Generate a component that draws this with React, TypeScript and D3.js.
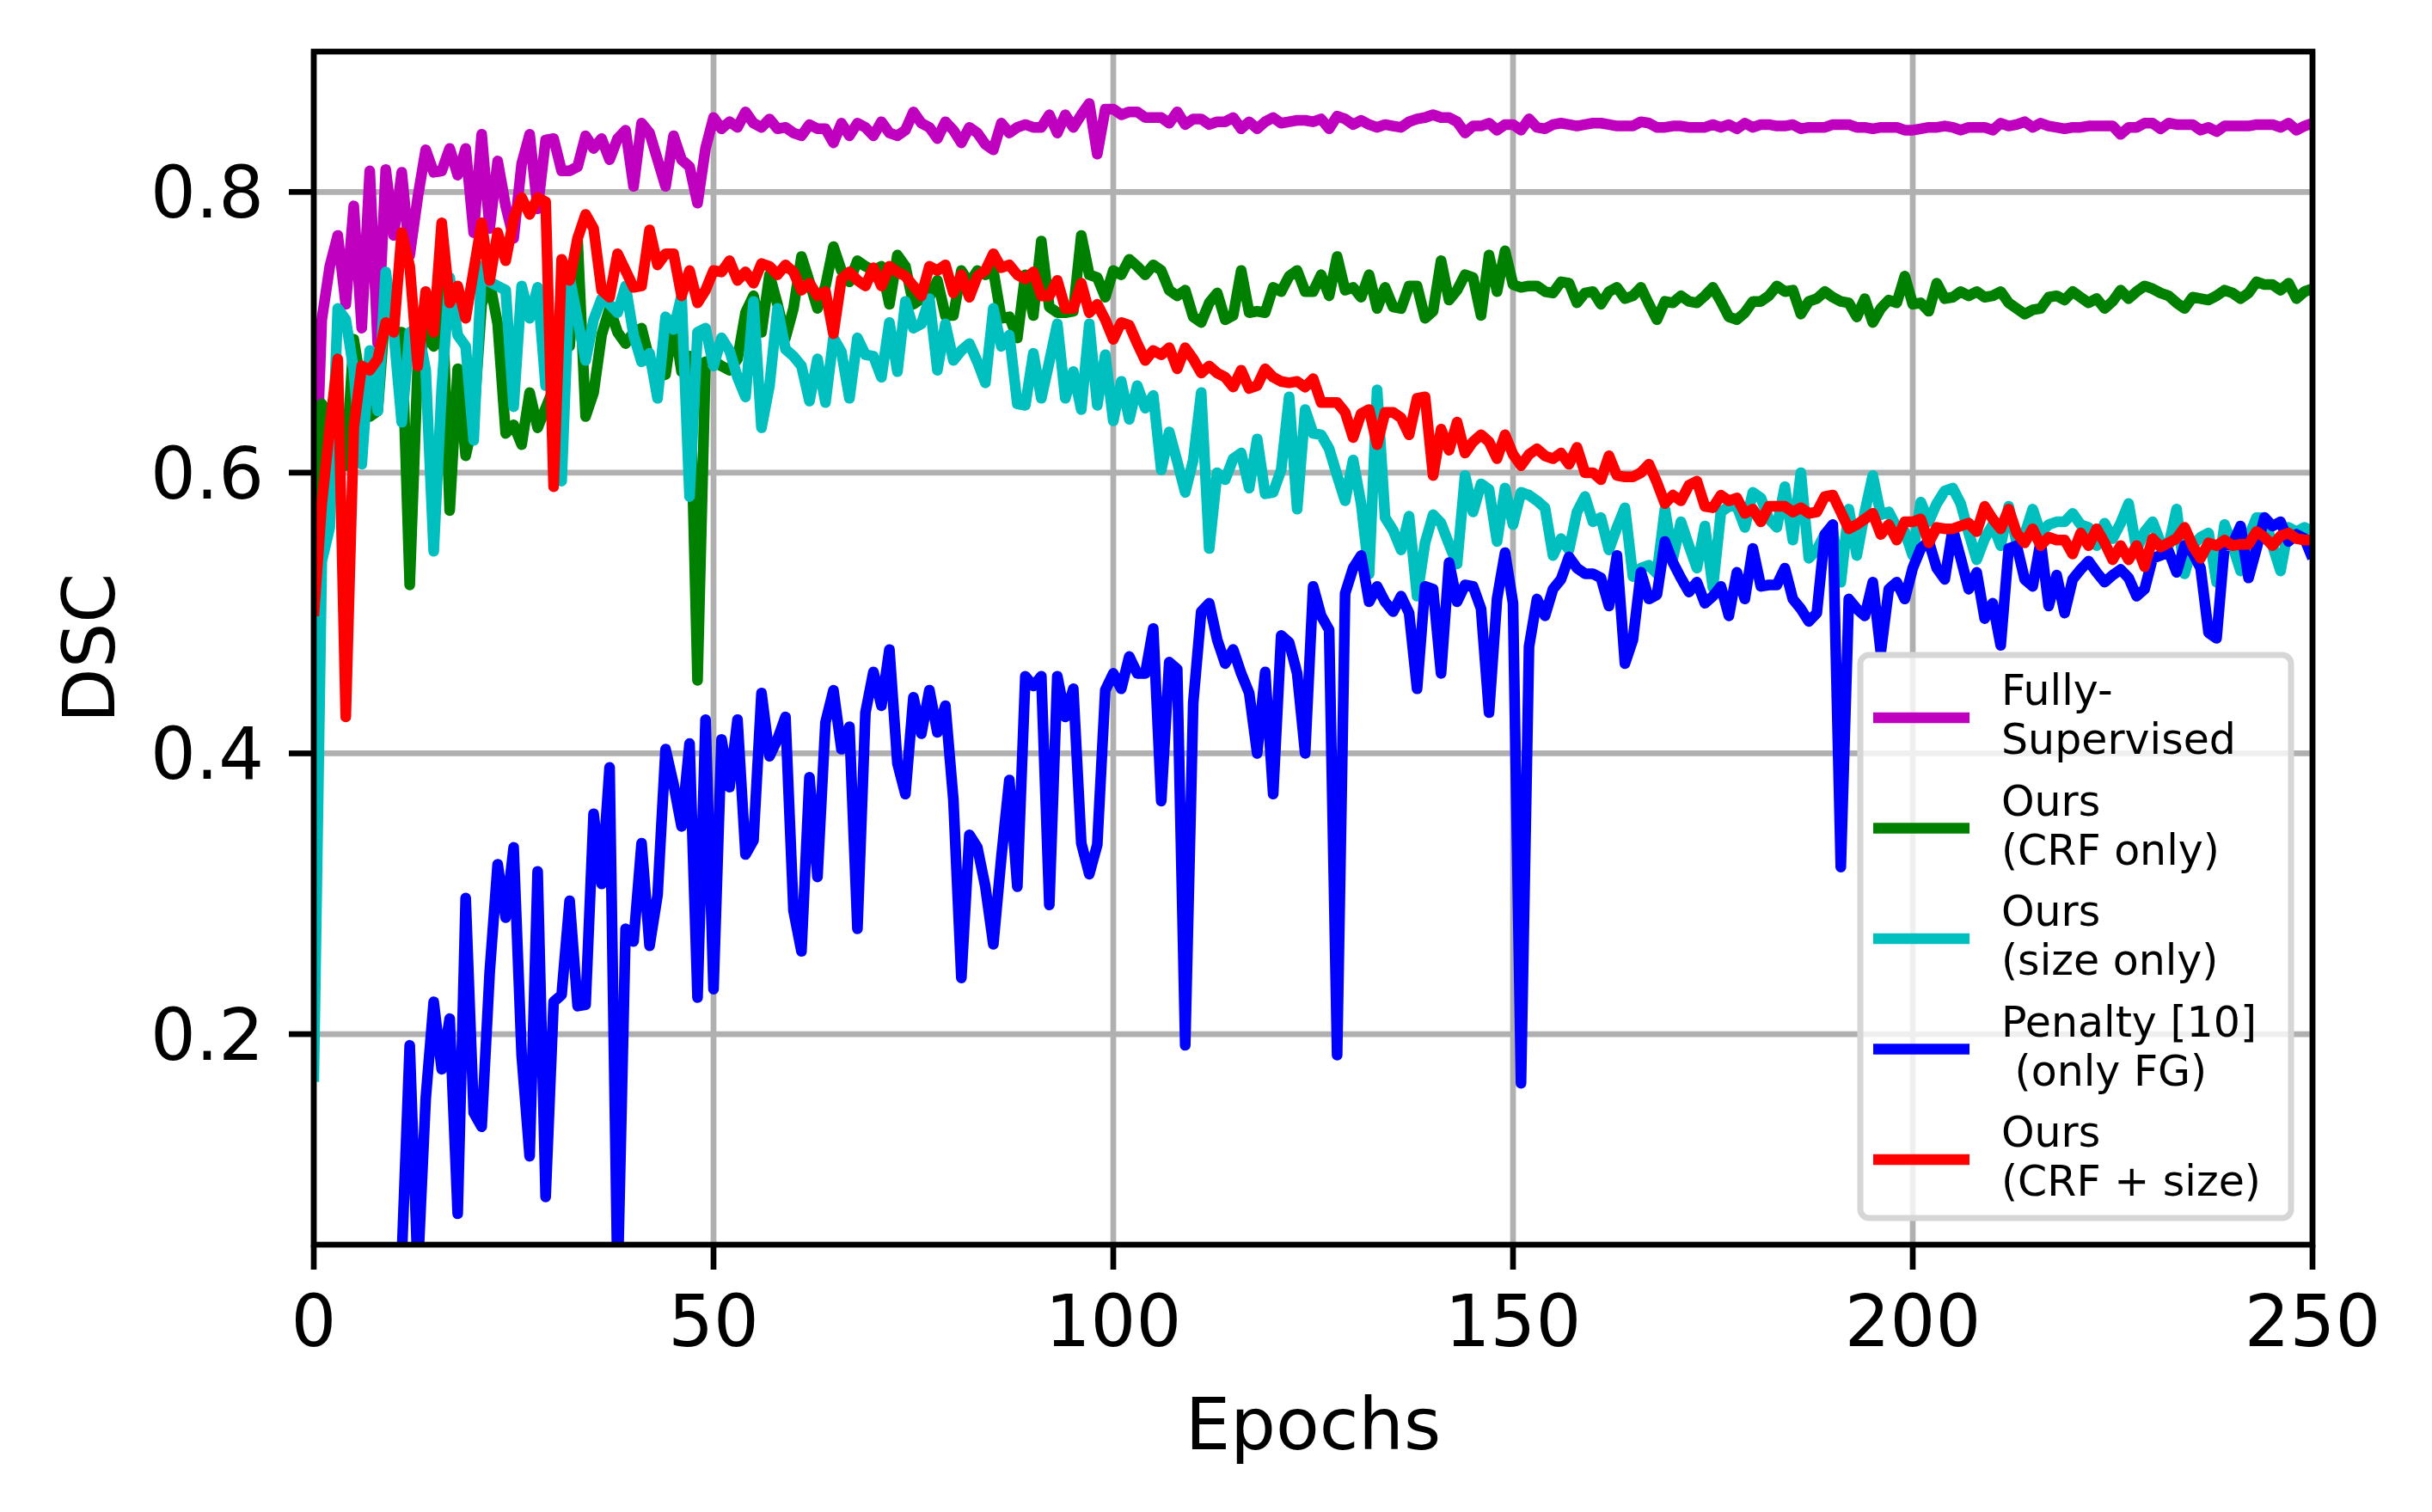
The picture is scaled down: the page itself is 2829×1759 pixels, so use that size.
import * as d3 from "d3";
import React from "react";

// DSC per epoch (0..250)
const fullySupervised = [
  0.55, 0.709, 0.747, 0.769, 0.72, 0.79, 0.703, 0.815, 0.692, 0.816,
  0.769, 0.814, 0.755, 0.796, 0.83, 0.814, 0.815, 0.831, 0.812, 0.831,
  0.771, 0.841, 0.774, 0.822, 0.79, 0.767, 0.82, 0.841, 0.788, 0.837,
  0.838, 0.815, 0.815, 0.818, 0.84, 0.831, 0.838, 0.823, 0.838, 0.844,
  0.804, 0.849, 0.842, 0.823, 0.804, 0.84, 0.823, 0.818, 0.792, 0.831,
  0.853, 0.845, 0.85, 0.846, 0.857, 0.849, 0.846, 0.852, 0.845, 0.846,
  0.842, 0.84, 0.848, 0.845, 0.845, 0.835, 0.849, 0.84, 0.849, 0.846,
  0.84, 0.85, 0.842, 0.84, 0.844, 0.857, 0.849, 0.846, 0.838, 0.85,
  0.844, 0.835, 0.846, 0.842, 0.834, 0.83, 0.849, 0.842, 0.846, 0.848,
  0.846, 0.846, 0.855, 0.842, 0.855, 0.846, 0.855, 0.863, 0.827, 0.859,
  0.859, 0.855, 0.857, 0.857, 0.853, 0.853, 0.853, 0.849, 0.857, 0.848,
  0.852, 0.852, 0.848, 0.85, 0.85, 0.853, 0.845, 0.85, 0.845, 0.85,
  0.853, 0.849, 0.85, 0.851, 0.851, 0.85, 0.852, 0.845, 0.854, 0.852,
  0.848, 0.851, 0.848, 0.846, 0.848, 0.847, 0.846, 0.85, 0.852, 0.853,
  0.855, 0.853, 0.853, 0.85, 0.842, 0.847, 0.847, 0.849, 0.844, 0.848,
  0.848, 0.844, 0.852, 0.846, 0.845, 0.848, 0.849, 0.848, 0.847, 0.848,
  0.849, 0.849, 0.848, 0.847, 0.847, 0.847, 0.85, 0.849, 0.846, 0.846,
  0.847, 0.847, 0.846, 0.846, 0.846, 0.848, 0.846, 0.848, 0.845, 0.849,
  0.846, 0.848, 0.848, 0.847, 0.847, 0.848, 0.845, 0.846, 0.846, 0.846,
  0.848, 0.848, 0.848, 0.846, 0.846, 0.845, 0.846, 0.846, 0.846, 0.844,
  0.844, 0.845, 0.846, 0.846, 0.847, 0.846, 0.844, 0.846, 0.846, 0.846,
  0.844, 0.849, 0.847, 0.848, 0.85, 0.846, 0.849, 0.847, 0.846, 0.845,
  0.846, 0.846, 0.847, 0.847, 0.847, 0.847, 0.841, 0.846, 0.846, 0.849,
  0.849, 0.845, 0.849, 0.848, 0.848, 0.848, 0.844, 0.846, 0.843, 0.847,
  0.847, 0.847, 0.847, 0.848, 0.848, 0.848, 0.846, 0.849, 0.844, 0.847,
  0.849,
];

const crfOnly = [
  0.48, 0.649, 0.64, 0.62, 0.605, 0.695, 0.66, 0.64, 0.644, 0.72,
  0.7, 0.7, 0.52, 0.676, 0.7, 0.69, 0.736, 0.573, 0.674, 0.612,
  0.638, 0.72, 0.736, 0.706, 0.628, 0.634, 0.62, 0.657, 0.632, 0.646,
  0.66, 0.7, 0.69, 0.766, 0.64, 0.657, 0.698, 0.717, 0.7, 0.692,
  0.7, 0.703, 0.68, 0.668, 0.67, 0.709, 0.672, 0.683, 0.452, 0.679,
  0.68, 0.676, 0.673, 0.681, 0.714, 0.726, 0.7, 0.741, 0.72, 0.696,
  0.717, 0.754, 0.736, 0.717, 0.733, 0.761, 0.744, 0.736, 0.751, 0.747,
  0.744, 0.747, 0.72, 0.755, 0.747, 0.72, 0.724, 0.725, 0.737, 0.712,
  0.712, 0.744, 0.735, 0.744, 0.741, 0.744, 0.71, 0.711, 0.696, 0.741,
  0.712, 0.765, 0.718, 0.714, 0.714, 0.715, 0.769, 0.741, 0.739, 0.725,
  0.744, 0.741, 0.752, 0.747, 0.741, 0.748, 0.744, 0.73, 0.726, 0.73,
  0.711, 0.707, 0.721, 0.728, 0.709, 0.712, 0.744, 0.714, 0.715, 0.714,
  0.732, 0.729, 0.74, 0.744, 0.729, 0.729, 0.741, 0.726, 0.754, 0.73,
  0.732, 0.725, 0.741, 0.717, 0.732, 0.718, 0.717, 0.733, 0.733, 0.71,
  0.715, 0.751, 0.723, 0.73, 0.741, 0.739, 0.712, 0.755, 0.729, 0.758,
  0.734, 0.732, 0.733, 0.733, 0.729, 0.728, 0.736, 0.735, 0.721, 0.728,
  0.729, 0.72, 0.729, 0.732, 0.724, 0.726, 0.732, 0.72, 0.709, 0.722,
  0.721, 0.726, 0.722, 0.721, 0.726, 0.732, 0.722, 0.711, 0.709, 0.714,
  0.722, 0.722, 0.726, 0.733, 0.729, 0.73, 0.713, 0.722, 0.724, 0.729,
  0.725, 0.722, 0.721, 0.711, 0.724, 0.707, 0.717, 0.723, 0.721, 0.74,
  0.72, 0.721, 0.715, 0.735, 0.724, 0.725, 0.729, 0.726, 0.729, 0.725,
  0.726, 0.729, 0.721, 0.717, 0.713, 0.716, 0.717, 0.725, 0.726, 0.723,
  0.729, 0.725, 0.721, 0.724, 0.717, 0.722, 0.73, 0.724, 0.729, 0.733,
  0.731, 0.728, 0.726, 0.721, 0.717, 0.725, 0.724, 0.723, 0.726, 0.73,
  0.728, 0.724, 0.728, 0.736, 0.734, 0.734, 0.73, 0.735, 0.724, 0.729,
  0.731,
];

const sizeOnly = [
  0.166, 0.537, 0.561, 0.717, 0.709, 0.673, 0.606, 0.687, 0.644, 0.743,
  0.7, 0.636, 0.7, 0.703, 0.673, 0.544, 0.66, 0.739, 0.698, 0.69,
  0.623, 0.747, 0.736, 0.733, 0.73, 0.647, 0.733, 0.71, 0.732, 0.662,
  0.7, 0.594, 0.739, 0.709, 0.68, 0.709, 0.724, 0.72, 0.714, 0.733,
  0.698, 0.679, 0.685, 0.653, 0.711, 0.702, 0.726, 0.583, 0.7, 0.703,
  0.676, 0.696, 0.687, 0.668, 0.654, 0.722, 0.632, 0.662, 0.717, 0.688,
  0.683, 0.676, 0.651, 0.681, 0.65, 0.696, 0.686, 0.653, 0.696, 0.684,
  0.683, 0.668, 0.707, 0.672, 0.722, 0.703, 0.706, 0.724, 0.673, 0.706,
  0.68, 0.687, 0.692, 0.679, 0.664, 0.717, 0.69, 0.698, 0.649, 0.648,
  0.685, 0.653, 0.679, 0.706, 0.653, 0.672, 0.645, 0.706, 0.648, 0.684,
  0.637, 0.665, 0.638, 0.662, 0.646, 0.655, 0.602, 0.629, 0.608, 0.586,
  0.609, 0.657, 0.546, 0.6, 0.595, 0.61, 0.614, 0.589, 0.624, 0.585,
  0.586, 0.602, 0.654, 0.574, 0.645, 0.628, 0.627, 0.617, 0.598, 0.58,
  0.609, 0.578, 0.528, 0.659, 0.568, 0.559, 0.545, 0.569, 0.512, 0.55,
  0.57, 0.564, 0.549, 0.535, 0.598, 0.572, 0.592, 0.588, 0.551, 0.589,
  0.563, 0.586, 0.584, 0.58, 0.575, 0.541, 0.553, 0.545, 0.572, 0.583,
  0.565, 0.568, 0.545, 0.561, 0.575, 0.526, 0.532, 0.534, 0.528, 0.574,
  0.539, 0.565, 0.548, 0.532, 0.562, 0.518, 0.572, 0.576, 0.576, 0.561,
  0.586, 0.582, 0.567, 0.561, 0.59, 0.552, 0.6, 0.539, 0.545, 0.556,
  0.559, 0.522, 0.574, 0.541, 0.572, 0.598, 0.57, 0.572, 0.561, 0.558,
  0.541, 0.579, 0.565, 0.578, 0.587, 0.589, 0.578, 0.557, 0.538, 0.553,
  0.563, 0.548, 0.576, 0.55, 0.556, 0.574, 0.557, 0.563, 0.565, 0.565,
  0.571, 0.563, 0.561, 0.548, 0.564, 0.553, 0.564, 0.578, 0.545, 0.558,
  0.565, 0.55, 0.548, 0.574, 0.528, 0.548, 0.554, 0.557, 0.522, 0.563,
  0.548, 0.53, 0.554, 0.568, 0.568, 0.548, 0.53, 0.561, 0.558, 0.561,
  0.558,
];

const penaltyFG = [
  0, 0, 0, 0, 0, 0, 0, 0, 0, 0,
  0, 0.04, 0.192, 0.03, 0.154, 0.223, 0.175, 0.211, 0.072, 0.297,
  0.144, 0.134, 0.244, 0.321, 0.283, 0.333, 0.185, 0.113, 0.316, 0.084,
  0.223, 0.228, 0.295, 0.22, 0.221, 0.357, 0.307, 0.39, 0.02, 0.275,
  0.266, 0.336, 0.263, 0.299, 0.403, 0.378, 0.348, 0.407, 0.226, 0.424,
  0.232, 0.41, 0.376, 0.424, 0.328, 0.338, 0.443, 0.398, 0.41, 0.426,
  0.288, 0.259, 0.383, 0.312, 0.422, 0.445, 0.403, 0.419, 0.275, 0.429,
  0.458, 0.434, 0.474, 0.393, 0.371, 0.44, 0.414, 0.445, 0.415, 0.434,
  0.367, 0.24, 0.342, 0.333, 0.305, 0.264, 0.326, 0.381, 0.305, 0.455,
  0.448, 0.455, 0.292, 0.455, 0.426, 0.446, 0.336, 0.314, 0.335, 0.445,
  0.457, 0.446, 0.469, 0.457, 0.457, 0.489, 0.366, 0.465, 0.46, 0.192,
  0.436, 0.501, 0.507, 0.481, 0.464, 0.474, 0.457, 0.443, 0.4, 0.458,
  0.371, 0.484, 0.479, 0.457, 0.4, 0.519, 0.498, 0.488, 0.185, 0.514,
  0.532, 0.541, 0.508, 0.519, 0.508, 0.501, 0.512, 0.5, 0.446, 0.519,
  0.517, 0.457, 0.536, 0.508, 0.52, 0.519, 0.503, 0.429, 0.51, 0.543,
  0.507, 0.165, 0.476, 0.51, 0.498, 0.517, 0.524, 0.54, 0.532, 0.528,
  0.528, 0.525, 0.505, 0.541, 0.464, 0.481, 0.529, 0.51, 0.513, 0.551,
  0.536, 0.525, 0.515, 0.522, 0.507, 0.512, 0.519, 0.498, 0.529, 0.51,
  0.546, 0.519, 0.52, 0.52, 0.532, 0.51, 0.503, 0.494, 0.5, 0.556,
  0.563, 0.319, 0.51, 0.503, 0.498, 0.522, 0.472, 0.517, 0.522, 0.51,
  0.532, 0.546, 0.551, 0.532, 0.524, 0.56, 0.539, 0.517, 0.529, 0.496,
  0.507, 0.477, 0.546, 0.548, 0.524, 0.519, 0.551, 0.505, 0.527, 0.5,
  0.524, 0.531, 0.537, 0.529, 0.522, 0.527, 0.531, 0.525, 0.512, 0.517,
  0.539, 0.541, 0.544, 0.529, 0.548, 0.543, 0.532, 0.486, 0.482, 0.548,
  0.549, 0.562, 0.525, 0.546, 0.568, 0.562, 0.565, 0.551, 0.556, 0.553,
  0.539,
];

const crfSize = [
  0.498, 0.578, 0.632, 0.681, 0.426, 0.632, 0.676, 0.673, 0.681, 0.707,
  0.7, 0.771, 0.747, 0.676, 0.729, 0.7, 0.778, 0.721, 0.733, 0.71,
  0.744, 0.778, 0.737, 0.771, 0.751, 0.781, 0.796, 0.784, 0.796, 0.793,
  0.59, 0.752, 0.737, 0.767, 0.784, 0.774, 0.73, 0.725, 0.756, 0.744,
  0.732, 0.733, 0.773, 0.748, 0.756, 0.756, 0.726, 0.744, 0.721, 0.73,
  0.744, 0.743, 0.751, 0.737, 0.743, 0.735, 0.749, 0.747, 0.741, 0.748,
  0.743, 0.73, 0.735, 0.726, 0.729, 0.699, 0.738, 0.743, 0.737, 0.733,
  0.746, 0.733, 0.747, 0.743, 0.74, 0.733, 0.726, 0.747, 0.744, 0.748,
  0.728, 0.741, 0.725, 0.74, 0.744, 0.756, 0.746, 0.748, 0.741, 0.738,
  0.743, 0.726, 0.726, 0.737, 0.717, 0.717, 0.735, 0.714, 0.72, 0.709,
  0.695, 0.707, 0.705, 0.692, 0.68, 0.687, 0.684, 0.689, 0.674, 0.689,
  0.681, 0.671, 0.676, 0.671, 0.668, 0.661, 0.673, 0.66, 0.662, 0.674,
  0.668, 0.665, 0.664, 0.665, 0.661, 0.667, 0.65, 0.65, 0.65, 0.643,
  0.625, 0.642, 0.645, 0.62, 0.643, 0.643, 0.639, 0.627, 0.653, 0.654,
  0.598, 0.631, 0.616, 0.636, 0.614, 0.622, 0.627, 0.622, 0.61, 0.627,
  0.613, 0.605, 0.613, 0.617, 0.612, 0.61, 0.614, 0.606, 0.618, 0.6,
  0.6, 0.595, 0.612, 0.598, 0.597, 0.597, 0.6, 0.606, 0.593, 0.578,
  0.584, 0.58, 0.591, 0.594, 0.576, 0.575, 0.584, 0.58, 0.582, 0.571,
  0.574, 0.565, 0.576, 0.576, 0.576, 0.572, 0.575, 0.571, 0.572, 0.583,
  0.584, 0.572, 0.56, 0.563, 0.567, 0.571, 0.556, 0.563, 0.552, 0.565,
  0.565, 0.567, 0.55, 0.561, 0.56, 0.56, 0.562, 0.564, 0.558, 0.576,
  0.567, 0.56, 0.574, 0.557, 0.55, 0.56, 0.548, 0.554, 0.552, 0.552,
  0.542, 0.557, 0.548, 0.56, 0.55, 0.538, 0.548, 0.538, 0.548, 0.533,
  0.553, 0.547, 0.55, 0.553, 0.561, 0.548, 0.539, 0.55, 0.548, 0.552,
  0.548, 0.549, 0.549, 0.558, 0.554, 0.548, 0.555, 0.557, 0.553, 0.552,
  0.552,
];

const seriesLabels = [
  ["Fully-", "Supervised"],
  ["Ours", "(CRF only)"],
  ["Ours", "(size only)"],
  ["Penalty [10]", " (only FG)"],
  ["Ours", "(CRF + size)"],
];
const seriesColors = ["#bf00bf", "#008000", "#00bfbf", "#0000ff", "#ff0000"];
const seriesValues = [fullySupervised, crfOnly, sizeOnly, penaltyFG, crfSize];

const xTicks = [0, 50, 100, 150, 200, 250];
const yTicks = [0.2, 0.4, 0.6, 0.8];

const W = 2829;
const H = 1759;
const FONT = "DejaVu Sans";

export default function App() {
  const left = 365;
  const right = 2690;
  const top = 60;
  const bottom = 1448;

  const x = d3.scaleLinear().domain([0, 250]).range([left, right]);
  const y = d3.scaleLinear().domain([0.05, 0.9]).range([bottom, top]);
  const line = d3
    .line<number>()
    .x((_, i) => x(i))
    .y((d) => y(d));

  // legend box
  const lgX = 2164;
  const lgY = 762;
  const lgW = 501;
  const lgH = 655;
  const rowY = (i: number) => 835 + i * 128.5;

  return (
    <svg
      width={W}
      height={H}
      style={{ position: "absolute", left: 0, top: 0, background: "white" }}
      fontFamily={FONT}
    >
      <defs>
        <clipPath id="plot">
          <rect x={left} y={top} width={right - left} height={bottom - top} />
        </clipPath>
      </defs>
      <rect width={W} height={H} fill="white" />

      {/* grid */}
      <g stroke="#b0b0b0" strokeWidth={6.7}>
        {xTicks.map((t) => (
          <line key={"gx" + t} x1={x(t)} x2={x(t)} y1={top} y2={bottom} />
        ))}
        {yTicks.map((t) => (
          <line key={"gy" + t} x1={left} x2={right} y1={y(t)} y2={y(t)} />
        ))}
      </g>

      {/* series */}
      <g clipPath="url(#plot)" fill="none" strokeWidth={12.5} strokeLinejoin="round">
        {seriesValues.map((vals, i) => (
          <path key={i} d={line(vals) ?? ""} stroke={seriesColors[i]} />
        ))}
      </g>

      {/* spines */}
      <rect
        x={left}
        y={top}
        width={right - left}
        height={bottom - top}
        fill="none"
        stroke="black"
        strokeWidth={6.7}
      />

      {/* x ticks */}
      <g>
        {xTicks.map((t) => (
          <g key={"xt" + t}>
            <line x1={x(t)} x2={x(t)} y1={bottom} y2={bottom + 29} stroke="black" strokeWidth={6.7} />
            <text x={x(t)} y={bottom + 118} fontSize={83} textAnchor="middle">
              {t}
            </text>
          </g>
        ))}
      </g>

      {/* y ticks */}
      <g>
        {yTicks.map((t) => (
          <g key={"yt" + t}>
            <line x1={left - 29} x2={left} y1={y(t)} y2={y(t)} stroke="black" strokeWidth={6.7} />
            <text x={left - 58} y={y(t) + 30} fontSize={83} textAnchor="end">
              {t.toFixed(1)}
            </text>
          </g>
        ))}
      </g>

      <text x={(left + right) / 2} y={1686} fontSize={83} textAnchor="middle">
        Epochs
      </text>
      <text
        transform={`translate(133, ${(top + bottom) / 2}) rotate(-90)`}
        fontSize={83}
        textAnchor="middle"
      >
        DSC
      </text>

      {/* legend */}
      <rect
        x={lgX}
        y={lgY}
        width={lgW}
        height={lgH}
        rx={10}
        fill="white"
        fillOpacity={0.8}
        stroke="#d6d6d6"
        strokeWidth={7}
      />
      {seriesLabels.map((lab, i) => (
        <g key={"lg" + i}>
          <line
            x1={2179}
            x2={2291}
            y1={rowY(i)}
            y2={rowY(i)}
            stroke={seriesColors[i]}
            strokeWidth={12.5}
          />
          <text x={2328} y={rowY(i) - 15} fontSize={49} style={{ whiteSpace: "pre" }}>
            {lab[0]}
          </text>
          <text x={2328} y={rowY(i) + 42} fontSize={49} style={{ whiteSpace: "pre" }}>
            {lab[1]}
          </text>
        </g>
      ))}
    </svg>
  );
}
